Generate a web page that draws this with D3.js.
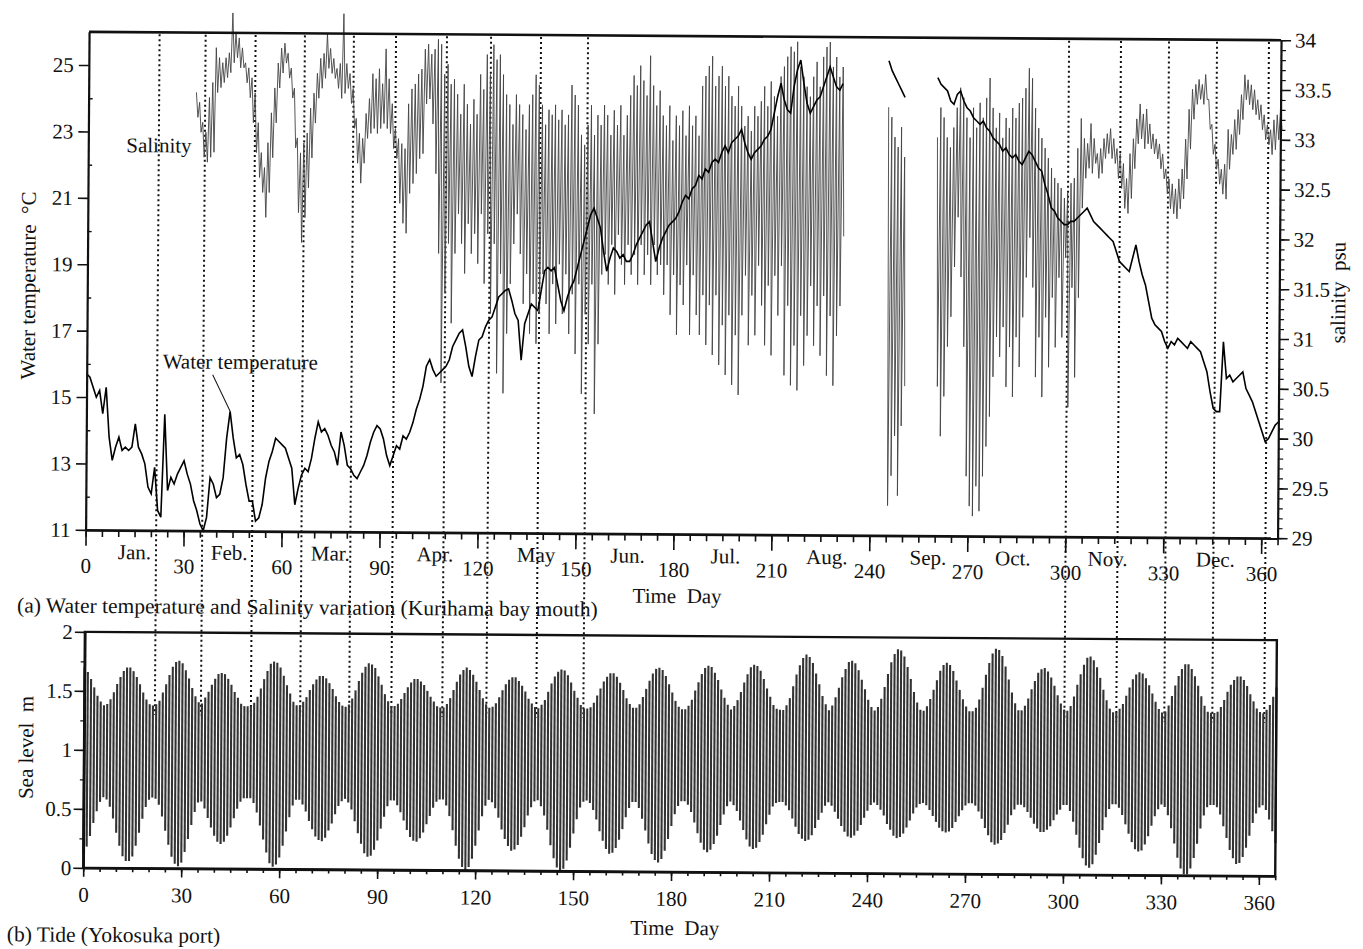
<!DOCTYPE html>
<html>
<head>
<meta charset="utf-8">
<script src="https://cdn.jsdelivr.net/npm/d3@7"></script>
<style>
  body { margin: 0; background: #fff; }
  text { font-family: "Liberation Serif", "Times New Roman", serif; fill: #111; }
</style>
</head>
<body>
<svg id="chart" width="1363" height="949"></svg>
<script>
// ---- data (day of year 0..365) ----
const days = d3.range(0, 366);

// daily water temperature, deg C (null = no record)
const waterTemp = [
  15.7,15.6,15.3,15.0,15.2,14.5,15.3,13.8,13.1,13.5,
  13.8,13.4,13.5,13.4,13.5,14.2,13.5,13.3,13.0,12.3,
  12.1,12.9,11.6,11.4,14.5,12.2,12.6,12.4,12.7,12.9,
  13.1,12.7,12.4,11.9,11.6,11.2,11.0,11.4,12.6,12.4,
  12.0,12.1,12.6,13.8,14.6,13.8,13.2,13.3,13.0,12.4,
  11.9,11.9,11.3,11.4,11.8,12.6,13.1,13.4,13.8,13.7,
  13.6,13.5,13.2,12.9,11.8,12.3,12.7,12.9,12.8,13.2,
  13.8,14.3,14.0,14.1,13.9,13.6,13.4,13.0,14.0,13.6,
  13.0,12.9,12.7,12.6,12.8,13.0,13.3,13.7,14.0,14.2,
  14.1,13.8,13.3,13.0,13.3,13.6,13.5,13.9,13.8,14.0,
  14.3,14.7,15.0,15.4,16.0,16.2,15.9,15.7,15.8,15.9,
  16.0,16.2,16.6,16.8,17.0,17.1,16.6,16.0,15.7,16.3,
  16.8,16.9,17.2,17.4,17.5,17.8,18.1,18.2,18.3,18.35,
  18.0,17.6,17.4,16.2,17.3,17.6,17.9,17.8,17.7,18.3,
  18.9,19.0,18.9,19.0,18.5,18.0,17.7,18.1,18.4,18.6,
  19.0,19.4,19.8,20.2,20.6,20.8,20.5,20.2,19.5,18.9,
  19.3,19.6,19.5,19.3,19.4,19.2,19.2,19.4,19.7,19.9,
  20.1,20.3,20.4,19.8,19.2,19.6,19.9,20.1,20.3,20.4,
  20.5,20.7,21.0,21.2,21.1,21.4,21.5,21.8,21.7,22.0,
  21.9,22.2,22.3,22.2,22.5,22.7,22.5,22.8,22.9,23.0,
  23.2,22.8,22.5,22.3,22.5,22.6,22.7,22.9,23.0,23.2,
  23.7,24.2,24.6,24.1,23.8,23.7,24.5,25.0,25.3,24.6,
  24.0,23.7,23.9,24.1,24.2,24.5,24.8,25.1,24.8,24.5,
  24.4,24.6,null,null,null,null,null,null,null,null,
  null,null,null,null,null,25.3,25.0,24.8,24.6,24.4,
  24.2,null,null,null,null,null,null,null,null,null,
  24.8,24.6,24.5,24.4,24.1,24.0,24.3,24.4,24.1,23.9,
  23.8,23.6,23.5,23.4,23.5,23.3,23.2,23.0,22.9,22.8,
  22.6,22.7,22.5,22.4,22.5,22.3,22.2,22.4,22.6,22.5,
  22.3,22.1,22.0,21.6,21.3,20.9,20.8,20.6,20.5,20.4,
  20.4,20.5,20.5,20.6,20.7,20.8,20.9,20.7,20.5,20.4,
  20.3,20.2,20.1,20.0,19.9,19.6,19.3,19.2,19.1,19.0,
  19.4,19.8,19.3,18.9,18.6,18.1,17.6,17.4,17.3,17.2,
  16.9,16.7,16.9,16.8,17.0,16.9,16.8,16.7,16.9,16.8,
  16.7,16.6,16.3,16.0,15.4,14.9,14.8,14.8,16.9,15.8,
  15.9,15.7,15.8,15.9,16.0,15.5,15.3,15.1,14.8,14.5,
  14.2,13.9,14.0,14.2,14.4,14.5
];

// daily salinity extremes, psu (null = no record)
const salinityHigh = [
  null,null,null,null,null,null,null,null,null,null,
  null,null,null,null,null,null,null,null,null,null,
  null,null,null,null,null,null,null,null,null,null,
  null,null,null,33.40,33.30,33.10,33.00,33.35,33.50,33.85,
  33.75,33.70,33.75,33.80,34.20,34.00,33.95,33.85,33.70,33.65,
  33.55,33.40,33.10,32.80,32.65,32.90,33.20,33.45,33.70,33.85,
  33.90,33.80,33.65,33.45,32.95,32.80,32.90,33.00,33.25,33.40,
  33.60,33.75,33.80,34.00,33.85,33.75,33.65,33.70,34.20,33.70,
  33.60,33.45,33.15,33.00,32.95,33.20,33.35,33.60,33.55,33.65,
  33.50,33.85,33.55,33.30,33.05,32.95,32.90,32.85,33.30,33.45,
  33.50,33.60,33.65,33.85,33.90,33.80,33.85,33.95,33.90,33.60,
  33.70,33.50,33.55,33.40,33.20,33.50,33.30,33.10,33.35,33.20,
  33.60,33.45,33.80,33.60,33.90,33.75,33.80,33.60,33.40,33.30,
  33.10,33.40,33.30,33.20,33.05,33.30,33.40,33.60,33.50,33.30,
  33.10,33.25,33.20,33.30,33.15,33.25,33.10,33.20,33.50,33.40,
  33.30,33.00,32.90,33.10,33.30,33.00,33.20,33.10,33.30,33.20,
  33.00,33.25,33.10,33.30,33.00,33.20,33.40,33.60,33.50,33.70,
  33.55,33.40,33.80,33.50,33.30,33.45,33.20,33.10,33.30,32.95,
  33.20,33.10,33.25,33.00,33.30,33.10,33.20,33.00,33.50,33.60,
  33.70,33.80,33.50,33.60,33.70,33.50,33.60,33.40,33.30,33.50,
  33.30,33.10,33.20,33.05,33.30,33.20,33.35,33.50,33.30,33.55,
  33.40,33.20,33.60,33.70,33.80,33.90,33.85,33.95,33.70,33.60,
  33.50,33.40,33.60,33.75,33.50,33.80,33.90,33.95,33.70,33.80,
  33.60,33.70,null,null,null,null,null,null,null,null,
  null,null,null,null,null,33.30,33.20,33.00,32.90,33.10,
  32.80,null,null,null,null,null,null,null,null,null,
  33.00,33.30,33.20,33.00,32.90,33.10,33.30,33.50,33.40,33.20,
  33.00,33.30,33.10,33.35,33.20,33.40,33.60,33.30,33.10,33.25,
  33.00,33.20,33.10,33.30,33.20,33.35,33.40,33.50,33.70,33.60,
  33.30,33.10,33.00,32.90,32.80,32.70,32.60,32.55,32.50,32.40,
  32.45,32.55,32.60,32.90,33.20,33.00,32.95,33.15,33.00,32.85,
  32.90,33.00,33.05,33.10,33.00,32.90,32.85,32.75,32.60,32.85,
  33.00,33.20,33.35,33.25,33.30,33.15,33.05,33.00,32.95,32.85,
  32.70,32.60,32.55,32.50,32.60,32.70,33.00,33.30,33.50,33.55,
  33.60,33.55,33.65,33.40,33.15,32.95,32.80,32.70,32.75,33.10,
  33.05,33.20,33.30,33.45,33.65,33.60,33.55,33.50,33.40,33.35,
  33.25,33.15,33.10,33.20,33.25,33.30
];
const salinityLow = [
  null,null,null,null,null,null,null,null,null,null,
  null,null,null,null,null,null,null,null,null,null,
  null,null,null,null,null,null,null,null,null,null,
  null,null,null,33.15,33.00,32.75,32.70,32.75,32.80,33.40,
  33.45,33.50,33.55,33.60,33.70,33.75,33.65,33.65,33.50,33.35,
  33.10,32.80,32.55,32.40,32.15,32.40,32.75,33.10,33.45,33.60,
  33.70,33.55,33.35,32.85,32.20,31.90,32.15,32.45,32.75,33.10,
  33.35,33.45,33.55,33.65,33.60,33.55,33.45,33.35,33.40,33.45,
  33.30,33.05,32.70,32.50,32.70,32.95,33.00,33.05,33.00,33.05,
  33.10,33.05,33.00,32.85,32.75,32.30,32.10,32.00,32.40,32.50,
  32.60,32.75,32.80,33.30,33.35,33.10,32.60,31.80,30.50,31.40,
  31.90,31.10,31.80,32.20,31.90,31.60,32.10,31.80,32.00,31.70,
  32.20,31.50,32.00,31.20,31.90,30.60,31.60,30.40,31.00,31.50,
  31.90,32.20,31.80,31.30,31.60,31.00,31.40,30.90,31.20,31.60,
  31.30,31.00,31.50,31.10,31.70,31.20,31.60,31.00,31.40,30.80,
  31.50,30.40,31.20,30.90,31.50,30.20,30.90,31.60,31.80,31.50,
  31.90,31.40,32.00,31.70,31.50,31.90,31.60,31.80,31.50,31.90,
  31.60,31.80,31.50,31.90,31.60,31.70,31.40,31.70,31.20,31.60,
  31.00,31.50,31.30,31.70,31.00,31.60,31.20,31.00,31.40,30.90,
  31.30,30.80,31.40,30.70,31.10,30.60,31.20,30.50,31.00,30.40,
  31.20,31.60,30.90,31.40,31.00,31.70,31.30,30.90,31.50,30.80,
  31.60,31.20,31.70,30.60,31.30,30.50,30.90,30.45,31.20,30.70,
  31.00,31.50,30.90,31.30,30.80,31.40,30.60,31.20,30.50,31.00,
  31.30,32.00,null,null,null,null,null,null,null,null,
  null,null,null,null,null,29.30,29.60,30.00,29.40,30.10,
  30.50,null,null,null,null,null,null,null,null,null,
  30.50,30.00,30.40,30.90,31.20,31.70,32.20,31.60,30.90,29.60,
  29.30,29.20,29.50,29.25,29.60,29.90,30.20,30.60,31.00,30.80,
  31.10,30.50,30.90,30.40,31.00,30.70,31.20,31.60,32.00,31.50,
  30.60,31.00,30.40,31.20,30.70,31.40,30.90,31.60,31.00,31.80,
  30.30,31.50,30.60,31.40,32.30,32.60,32.70,32.65,32.75,32.60,
  32.65,32.80,32.85,32.80,32.75,32.60,32.50,32.30,32.25,32.40,
  32.70,32.95,33.00,32.90,32.95,32.90,32.85,32.80,32.70,32.60,
  32.45,32.30,32.25,32.20,32.30,32.40,32.60,32.90,33.20,33.35,
  33.40,33.35,33.40,33.10,32.85,32.70,32.55,32.45,32.40,32.70,
  32.85,32.90,33.05,33.20,33.40,33.35,33.30,33.25,33.20,33.10,
  33.00,32.95,32.85,32.90,33.00,33.10
];

// daily high and low water at the port, m
const tideHigh = [
  1.70,1.66,1.60,1.53,1.46,1.41,1.38,1.39,1.43,1.49,
  1.56,1.62,1.67,1.70,1.70,1.67,1.62,1.56,1.49,1.43,
  1.39,1.38,1.39,1.42,1.49,1.56,1.64,1.71,1.75,1.76,
  1.74,1.68,1.61,1.53,1.46,1.41,1.40,1.45,1.50,1.56,
  1.61,1.65,1.66,1.65,1.61,1.56,1.50,1.45,1.40,1.38,
  1.38,1.38,1.41,1.46,1.53,1.61,1.68,1.74,1.76,1.75,
  1.71,1.64,1.56,1.49,1.42,1.39,1.39,1.42,1.46,1.52,
  1.57,1.61,1.64,1.64,1.62,1.58,1.53,1.47,1.42,1.39,
  1.38,1.40,1.45,1.52,1.60,1.67,1.72,1.75,1.74,1.71,
  1.64,1.57,1.49,1.43,1.39,1.39,1.41,1.45,1.50,1.55,
  1.59,1.62,1.62,1.60,1.57,1.52,1.47,1.43,1.39,1.38,
  1.38,1.41,1.46,1.53,1.60,1.66,1.70,1.72,1.70,1.66,
  1.60,1.53,1.46,1.41,1.38,1.39,1.42,1.47,1.53,1.58,
  1.62,1.64,1.64,1.61,1.57,1.52,1.46,1.42,1.39,1.38,
  1.41,1.45,1.52,1.59,1.65,1.69,1.71,1.70,1.66,1.60,
  1.53,1.47,1.41,1.38,1.38,1.39,1.43,1.49,1.55,1.61,
  1.65,1.68,1.68,1.65,1.60,1.54,1.47,1.42,1.39,1.39,
  1.42,1.48,1.55,1.62,1.68,1.72,1.73,1.71,1.66,1.59,
  1.52,1.45,1.40,1.38,1.38,1.41,1.46,1.54,1.61,1.68,
  1.73,1.75,1.74,1.69,1.63,1.55,1.48,1.42,1.38,1.41,
  1.46,1.53,1.61,1.68,1.74,1.76,1.75,1.71,1.64,1.56,
  1.49,1.42,1.39,1.38,1.38,1.42,1.48,1.58,1.68,1.76,
  1.82,1.85,1.83,1.78,1.69,1.60,1.50,1.43,1.38,1.42,
  1.49,1.57,1.66,1.73,1.79,1.80,1.78,1.72,1.64,1.56,
  1.47,1.41,1.38,1.41,1.48,1.58,1.69,1.79,1.86,1.90,
  1.89,1.84,1.75,1.65,1.54,1.45,1.39,1.38,1.42,1.48,
  1.56,1.64,1.72,1.77,1.79,1.77,1.72,1.64,1.56,1.48,
  1.42,1.38,1.38,1.41,1.48,1.58,1.69,1.79,1.87,1.91,
  1.90,1.85,1.76,1.65,1.54,1.45,1.39,1.39,1.43,1.49,
  1.57,1.64,1.71,1.74,1.75,1.72,1.67,1.60,1.52,1.45,
  1.40,1.39,1.43,1.51,1.61,1.70,1.78,1.84,1.85,1.82,
  1.76,1.67,1.57,1.48,1.41,1.38,1.38,1.41,1.45,1.52,
  1.59,1.66,1.70,1.72,1.71,1.67,1.61,1.54,1.47,1.41,
  1.38,1.39,1.44,1.52,1.61,1.69,1.75,1.79,1.79,1.75,
  1.69,1.61,1.52,1.44,1.39,1.38,1.38,1.39,1.43,1.49,
  1.56,1.62,1.66,1.69,1.69,1.66,1.61,1.54,1.48,1.42,
  1.39,1.38,1.41,1.45,1.52,1.60
];
const tideLow = [
  0.11,0.18,0.27,0.38,0.48,0.56,0.60,0.58,0.52,0.42,
  0.30,0.19,0.10,0.06,0.06,0.10,0.19,0.30,0.42,0.52,
  0.58,0.60,0.59,0.54,0.44,0.32,0.20,0.10,0.04,0.02,
  0.05,0.14,0.25,0.37,0.48,0.56,0.57,0.51,0.43,0.35,
  0.28,0.23,0.21,0.23,0.28,0.35,0.43,0.51,0.57,0.60,
  0.60,0.60,0.56,0.48,0.37,0.25,0.14,0.05,0.02,0.04,
  0.10,0.20,0.32,0.44,0.54,0.59,0.59,0.55,0.49,0.41,
  0.34,0.28,0.25,0.24,0.27,0.33,0.39,0.47,0.54,0.58,
  0.60,0.57,0.51,0.41,0.31,0.22,0.14,0.11,0.12,0.17,
  0.25,0.35,0.45,0.54,0.59,0.59,0.55,0.49,0.42,0.34,
  0.28,0.25,0.24,0.27,0.32,0.39,0.46,0.53,0.58,0.60,
  0.60,0.55,0.46,0.34,0.21,0.10,0.03,0.00,0.03,0.10,
  0.21,0.34,0.46,0.55,0.60,0.58,0.53,0.45,0.35,0.27,
  0.21,0.17,0.18,0.22,0.29,0.37,0.47,0.54,0.59,0.60,
  0.55,0.47,0.35,0.22,0.11,0.03,0.00,0.02,0.09,0.20,
  0.32,0.44,0.54,0.59,0.60,0.58,0.52,0.44,0.34,0.26,
  0.19,0.15,0.16,0.20,0.27,0.36,0.46,0.54,0.59,0.59,
  0.54,0.45,0.35,0.24,0.15,0.10,0.08,0.11,0.18,0.28,
  0.39,0.49,0.56,0.60,0.60,0.57,0.51,0.42,0.33,0.25,
  0.19,0.17,0.19,0.24,0.31,0.40,0.49,0.56,0.60,0.57,
  0.52,0.44,0.36,0.28,0.22,0.20,0.21,0.26,0.32,0.41,
  0.49,0.56,0.59,0.60,0.60,0.57,0.53,0.46,0.39,0.33,
  0.29,0.27,0.28,0.32,0.38,0.45,0.51,0.57,0.60,0.57,
  0.52,0.46,0.40,0.35,0.31,0.30,0.32,0.36,0.41,0.47,
  0.53,0.58,0.60,0.58,0.54,0.49,0.42,0.37,0.32,0.30,
  0.31,0.34,0.39,0.45,0.51,0.56,0.59,0.60,0.58,0.54,
  0.49,0.44,0.39,0.36,0.35,0.36,0.39,0.44,0.49,0.54,
  0.58,0.60,0.60,0.58,0.53,0.47,0.39,0.33,0.27,0.25,
  0.26,0.29,0.35,0.42,0.50,0.55,0.59,0.59,0.57,0.53,
  0.48,0.43,0.39,0.36,0.36,0.38,0.41,0.46,0.51,0.55,
  0.59,0.59,0.54,0.45,0.34,0.23,0.14,0.08,0.06,0.09,
  0.17,0.27,0.38,0.49,0.56,0.60,0.60,0.57,0.51,0.43,
  0.35,0.28,0.22,0.20,0.21,0.26,0.33,0.42,0.50,0.56,
  0.60,0.58,0.51,0.40,0.27,0.15,0.06,0.01,0.01,0.06,
  0.15,0.27,0.40,0.51,0.58,0.60,0.60,0.58,0.52,0.42,
  0.32,0.22,0.15,0.10,0.11,0.16,0.24,0.34,0.45,0.53,
  0.58,0.60,0.56,0.48,0.38,0.28
];

// days marked by the dotted reference lines
const markerDays = [21.6, 35.7, 51.0, 66.1, 81.1, 94.0, 109.6, 123.1, 138.4, 152.8,
                    300.1, 316.0, 330.7, 345.4, 361.3];

// month names and the day each one is centred on
const monthNames = ["Jan.", "Feb.", "Mar.", "Apr.", "May", "Jun.", "Jul.", "Aug.", "Sep.", "Oct.", "Nov.", "Dec."];
const monthCentres = [15, 44, 75, 107, 138, 166, 196, 227, 258, 284, 313, 346];

const dayTicks = d3.range(0, 361, 30);
const tempTicks = d3.range(11, 26, 2);
const salinityTicks = d3.range(29, 34.01, 0.5);
const seaLevelTicks = [0, 0.5, 1, 1.5, 2];

// ---- layout ----
const svg = d3.select("#chart");
const root = svg.append("g").attr("transform", "rotate(0.4,680,475)");

const x = d3.scaleLinear().domain([0, 365]).range([86, 1278]);
const yTemp = d3.scaleLinear().domain([11, 26]).range([534, 36]);
const ySal = d3.scaleLinear().domain([29, 34]).range([534, 36]);
const yLev = d3.scaleLinear().domain([0, 2]).range([872, 636]);

const FONT = 21;

function styleAxis(g, width) {
  g.select(".domain").attr("stroke", "#111").attr("stroke-width", width);
  g.selectAll(".tick line").attr("stroke", "#111").attr("stroke-width", 1.6);
  g.selectAll(".tick text").attr("font-size", FONT).attr("fill", "#111")
    .attr("font-family", '"Liberation Serif", "Times New Roman", serif');
}

// ---- dotted marker lines running through both panels ----
root.append("g").selectAll("line").data(markerDays).join("line")
  .attr("x1", d => x(d)).attr("x2", d => x(d))
  .attr("y1", 38).attr("y2", yLev(1.3))
  .attr("stroke", "#111").attr("stroke-width", 2)
  .attr("stroke-dasharray", "2,3");

// ---- panel (a): temperature and salinity ----
const salTrace = [];
days.forEach(d => {
  if (salinityHigh[d] == null) { salTrace.push({ t: d, v: null }); return; }
  salTrace.push({ t: d, v: salinityHigh[d] }, { t: d + 0.5, v: salinityLow[d] });
});
root.append("path")
  .datum(salTrace)
  .attr("fill", "none").attr("stroke", "#444").attr("stroke-width", 0.9)
  .attr("d", d3.line().defined(p => p.v != null).x(p => x(p.t)).y(p => ySal(p.v)));

root.append("path")
  .datum(days.map(d => ({ t: d, v: waterTemp[d] })))
  .attr("fill", "none").attr("stroke", "#000").attr("stroke-width", 1.6)
  .attr("d", d3.line().defined(p => p.v != null).x(p => x(p.t)).y(p => yTemp(p.v)));

// frame: top edge
root.append("line").attr("x1", 86).attr("x2", 1278).attr("y1", 36).attr("y2", 36)
  .attr("stroke", "#111").attr("stroke-width", 2.6);

// left axis (temperature)
root.append("g").attr("transform", "translate(86,0)")
  .call(d3.axisLeft(yTemp).tickValues(tempTicks).tickSize(10).tickPadding(5).tickSizeOuter(0))
  .call(g => styleAxis(g, 2.2));
root.append("g").attr("transform", "translate(86,0)")
  .call(d3.axisRight(yTemp).tickValues(d3.range(12, 26, 2)).tickSize(4).tickFormat("").tickSizeOuter(0))
  .call(g => { g.select(".domain").remove(); g.selectAll("line").attr("stroke", "#111").attr("stroke-width", 1.4); });

// right axis (salinity)
root.append("g").attr("transform", "translate(1278,0)")
  .call(d3.axisRight(ySal).tickValues(salinityTicks).tickSize(10).tickPadding(4).tickSizeOuter(0)
    .tickFormat(d => String(+d.toFixed(1))))
  .call(g => styleAxis(g, 2.2));
root.append("g").attr("transform", "translate(1278,0)")
  .call(d3.axisRight(ySal).tickValues(d3.range(29, 34.001, 0.1)).tickSize(5).tickFormat("").tickSizeOuter(0))
  .call(g => { g.select(".domain").remove(); g.selectAll("line").attr("stroke", "#111").attr("stroke-width", 1.2); });

// bottom axis (days)
root.append("g").attr("transform", "translate(0,534)")
  .call(d3.axisBottom(x).tickValues(d3.range(0, 366, 5)).tickSize(7).tickFormat("").tickSizeOuter(0))
  .call(g => styleAxis(g, 2.8));
root.append("g").attr("transform", "translate(0,534)")
  .call(d3.axisBottom(x).tickValues(dayTicks).tickSize(16).tickPadding(12).tickSizeOuter(0))
  .call(g => { g.select(".domain").remove(); styleAxis(g, 0); });

// month names
root.append("g").selectAll("text").data(monthNames).join("text")
  .attr("x", (m, i) => x(monthCentres[i])).attr("y", 563)
  .attr("text-anchor", "middle").attr("font-size", FONT)
  .text(m => m);

root.append("text").attr("x", 678).attr("y", 603).attr("text-anchor", "middle")
  .attr("font-size", FONT).style("white-space", "pre").text("Time  Day");

root.append("text").attr("transform", "translate(34,290) rotate(-90)")
  .attr("text-anchor", "middle").attr("font-size", FONT).style("white-space", "pre")
  .text("Water temperature  °C");
root.append("text").attr("transform", "translate(1344,288) rotate(-90)")
  .attr("text-anchor", "middle").attr("font-size", FONT).style("white-space", "pre")
  .text("salinity  psu");

root.append("text").attr("x", 124).attr("y", 156).attr("font-size", FONT).text("Salinity");
root.append("text").attr("x", 162).attr("y", 372).attr("font-size", FONT).text("Water temperature");
root.append("line")
  .attr("x1", 212).attr("y1", 378)
  .attr("x2", x(44)).attr("y2", yTemp(waterTemp[44]))
  .attr("stroke", "#111").attr("stroke-width", 1);

root.append("text").attr("x", 18).attr("y", 617).attr("font-size", 21.5)
  .text("(a) Water temperature and Salinity variation (Kurihama bay mouth)");

// ---- panel (b): tide ----
root.append("g").selectAll("line").data(days).join("line")
  .attr("x1", d => x(d)).attr("x2", d => x(d))
  .attr("y1", d => yLev(tideLow[d])).attr("y2", d => yLev(tideHigh[d]))
  .attr("stroke", "#333").attr("stroke-width", 2.1);

root.append("rect").attr("x", 86).attr("y", 636).attr("width", 1192).attr("height", 236)
  .attr("fill", "none").attr("stroke", "#111").attr("stroke-width", 2.4);

root.append("g").attr("transform", "translate(86,0)")
  .call(d3.axisLeft(yLev).tickValues(seaLevelTicks).tickSize(10).tickPadding(2).tickSizeOuter(0)
    .tickFormat(d => String(d)))
  .call(g => styleAxis(g, 2.4));
root.append("g").attr("transform", "translate(86,0)")
  .call(d3.axisLeft(yLev).tickValues([0.25, 0.75, 1.25, 1.75]).tickSize(4).tickFormat("").tickSizeOuter(0))
  .call(g => { g.select(".domain").remove(); g.selectAll("line").attr("stroke", "#111").attr("stroke-width", 1.2); });

root.append("g").attr("transform", "translate(0,872)")
  .call(d3.axisBottom(x).tickValues(d3.range(0, 366, 5)).tickSize(4).tickFormat("").tickSizeOuter(0))
  .call(g => styleAxis(g, 2.4));
root.append("g").attr("transform", "translate(0,872)")
  .call(d3.axisBottom(x).tickValues(dayTicks).tickSize(9).tickPadding(10).tickSizeOuter(0))
  .call(g => { g.select(".domain").remove(); styleAxis(g, 0); });

root.append("text").attr("transform", "translate(35,752) rotate(-90)")
  .attr("text-anchor", "middle").attr("font-size", FONT).style("white-space", "pre")
  .text("Sea level  m");
root.append("text").attr("x", 678).attr("y", 935).attr("text-anchor", "middle")
  .attr("font-size", FONT).style("white-space", "pre").text("Time  Day");
root.append("text").attr("x", 10).attr("y", 946).attr("font-size", 21.5)
  .text("(b) Tide (Yokosuka port)");
</script>
</body>
</html>
